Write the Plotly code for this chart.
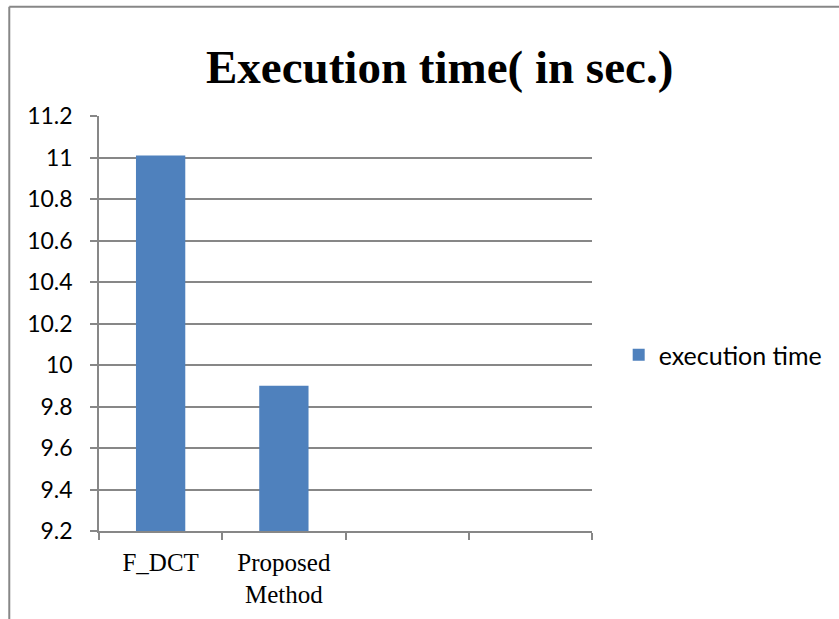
import plotly.graph_objects as go

# ---- data ----
categories = ["F_DCT", "Proposed<br>Method", " ", "  "]
bar_categories = ["F_DCT", "Proposed<br>Method"]
execution_time = [11.01, 9.9]
series_name = "execution time"
y_tick_vals = [9.2, 9.4, 9.6, 9.8, 10.0, 10.2, 10.4, 10.6, 10.8, 11.0, 11.2]
y_tick_text = ["9.2", "9.4", "9.6", "9.8", "10", "10.2", "10.4", "10.6", "10.8", "11", "11.2"]
title_text = "<b>Execution time( in sec.)</b>"

GRID = "#878787"
BAR = "#4F81BD"
SANS = "Lato, 'Open Sans', sans-serif"
SERIF = "'Liberation Serif', 'Times New Roman', serif"

fig = go.Figure()
fig.add_trace(go.Bar(
    x=bar_categories, y=execution_time, name=series_name,
    marker=dict(color=BAR, line=dict(width=0)),
    showlegend=True,
))

fig.update_layout(
    width=839, height=619,
    margin=dict(l=99, r=246, t=116, b=88),
    paper_bgcolor="white", plot_bgcolor="white",
    bargap=0.6,
    showlegend=True,
    title=dict(
        text=title_text,
        font=dict(family=SERIF, size=47, color="black"),
        xref="container", x=0.524, xanchor="center",
        yref="container", y=0.892, yanchor="middle",
    ),
    legend=dict(
        x=1.052, xanchor="left", y=0.424, yanchor="middle",
        font=dict(family=SANS, size=25, color="black"),
        bgcolor="rgba(0,0,0,0)", borderwidth=0,
    ),
    xaxis=dict(
        type="category", categoryorder="array", categoryarray=categories,
        range=[-0.5, 3.5],
        showgrid=False, zeroline=False,
        showline=True, linecolor=GRID, linewidth=1.5,
        ticks="outside", ticklen=7, tickcolor=GRID, tickwidth=1.5,
        tickson="boundaries",
        tickfont=dict(family=SERIF, size=25, color="black"),
        ticklabelstandoff=8,
    ),
    yaxis=dict(
        range=[9.2, 11.2],
        tickvals=y_tick_vals, ticktext=y_tick_text,
        showgrid=True, gridcolor=GRID, gridwidth=1.5,
        zeroline=False,
        showline=True, linecolor=GRID, linewidth=1.5,
        ticks="outside", ticklen=7, tickcolor=GRID, tickwidth=1.5,
        tickfont=dict(family=SANS, size=23, color="black"),
        ticklabelstandoff=13,
    ),
    shapes=[
        dict(type="line", xref="paper", yref="paper",
             x0=-0.182, y0=1.263, x1=1.7, y1=1.263,
             line=dict(color=GRID, width=2)),
        dict(type="line", xref="paper", yref="paper",
             x0=-0.182, y0=1.263, x1=-0.182, y1=-0.4,
             line=dict(color=GRID, width=2)),
    ],
)

fig.write_html("out.html")
